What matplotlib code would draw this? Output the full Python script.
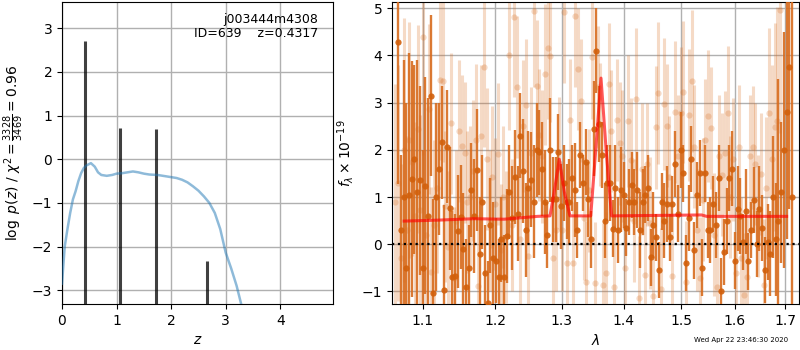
import numpy as np
import matplotlib
matplotlib.use('Agg')
import matplotlib.pyplot as plt
from matplotlib.ticker import FixedLocator, NullLocator, FormatStrFormatter

# --- p(z) panel ---
pz_z = [0.0, 0.05, 0.1, 0.15, 0.2, 0.25, 0.3, 0.35, 0.4, 0.45, 0.53, 0.6, 0.66,
        0.72, 0.82, 0.92, 1.0, 1.1, 1.2, 1.3, 1.4, 1.5, 1.6, 1.75, 1.9, 2.0,
        2.1, 2.2, 2.3, 2.4, 2.5, 2.6, 2.7, 2.8, 2.9, 3.0, 3.1, 3.2, 3.3]
pz_logp = [-2.85, -2.0, -1.6, -1.23, -0.92, -0.73, -0.5, -0.32, -0.2, -0.14, -0.09,
           -0.17, -0.3, -0.36, -0.38, -0.36, -0.33, -0.32, -0.3, -0.28, -0.3, -0.33,
           -0.35, -0.36, -0.39, -0.41, -0.43, -0.47, -0.53, -0.62, -0.72, -0.85,
           -1.0, -1.23, -1.6, -2.14, -2.5, -2.9, -3.4]
peak_z = [0.43, 1.07, 1.72, 2.66]
peak_h = [2.70, 0.72, 0.70, -2.33]

# --- spectrum panel ---
dark_flux = [4.28, 0.3, 1.0, -0.5, 1.05, 1.38, 1.8, 1.1, 1.35, -0.5, 1.24, 0.6, 3.15,
             -1.04, 1.0, 1.6, 2.16, -0.97, 2.07, 0.76, -0.7, -0.67, 0.27, 0.57, -0.11,
             -0.9, -0.5, 1.15, 0.6, 1.57, -0.2, 0.9, -0.6, -1.25, 0.4, -0.3, -0.35,
             -0.7, 0.1, -0.7, 0.17, 1.1, 0.55, 1.42, 0.65, 2.3, 1.55, 0.3, 1.2, 1.37,
             0.9, 2.0, 1.95, 1.6, 0.9, 0.2,
             2.0, 0.95, 0.95, 1.95, 0.8, 1.3, 0.9, 0.9, 1.4, 1.15, 0.3, 1.9, 1.3,
             1.75, 0.95, 0.1, 2.45, 4.1, 2.55, 1.9, 0.5, 1.3, 1.3, 0.33, 1.2, 0.3,
             1.15, 1.05, 0.35, 0.9, 1.25, 0.9,
             1.15, 0.3, 0.9, 1.05, 1.2, -0.28, 0.4, 0.15, -0.55, 0.9, 0.5, 0.85,
             0.15, 0.85, 1.7, 0.65, 2.0, 1.5, -0.4, 0.55, 1.8, -0.13, 1.05, 1.5,
             -0.5, 1.5, 0.3, 0.3, 0.85, 0.4, 1.4,
             -1.0, -0.17, 0.5, 1.4, 1.6, -0.35, 0.75, 0.6, 0.05, 0.7, -0.36, 0.3,
             0.94, 0.0, 0.75, 0.35, -0.55, 0.05, -0.2, 1.0, 0.1, 0.5, 1.1, 2.0,
             2.8, 3.75, 1.0]
dark_err = [3.0, 1.6, 2.9, 3.5, 3.0, 2.5, 2.0, 2.8, 2.0, 2.5, 2.3, 2.5, 1.7, 2.0,
            2.0, 1.4, 1.2, 1.8, 1.2, 1.3, 1.4, 1.3, 1.2, 1.1, 1.2,
            1.0, 0.9, 1.0, 1.2, 1.3, 1.2, 1.0, 1.0, 0.9, 1.0, 1.2, 0.9, 0.8, 0.9,
            0.9, 1.0, 1.0, 1.1, 1.0, 1.0, 0.9, 1.1, 1.0, 1.2, 1.0, 1.2, 1.0, 0.9,
            1.0, 1.1, 0.7,
            1.1, 0.9, 0.9, 0.8, 0.9, 0.8, 0.8, 0.9, 0.7, 1.0, 0.6, 0.7, 0.6, 0.7,
            0.8, 0.6, 1.0, 0.9, 0.8, 0.7, 0.8, 0.8, 0.8, 0.6, 0.9, 0.7, 0.9, 0.7,
            0.6, 0.7, 0.7, 0.7,
            0.8, 0.8, 0.7, 0.6, 0.7, 0.6, 0.7, 0.5, 0.6, 0.6, 0.8, 0.8, 0.5, 0.6,
            0.7, 0.6, 0.8, 0.6, 0.6, 0.7, 0.7, 0.6, 0.7, 0.7, 0.6, 0.6, 0.6, 0.7,
            0.6, 0.7, 0.7,
            0.7, 0.7, 0.7, 0.7, 0.8, 0.6, 0.9, 0.8, 0.6, 0.9, 0.6, 0.6, 0.7, 0.7,
            0.9, 0.7, 0.7, 0.8, 0.9, 1.3, 1.2, 3.0, 1.5, 2.5, 2.7, 3.0, 4.5]
dark_range = (1.0678, 1.714)

light_flux = [0.9, 1.3, -0.3, 2.0, 0.3, 2.2, 1.74, 0.6, 2.44, 0.73, 4.38, 0.2, 2.87,
              -0.58, 0.41, 1.2, 3.48, 3.45, 0.8, -0.05, 2.56, -0.72, 0.5, 2.4, 2.08,
              1.94, 0.9,
              1.0, 1.56, 2.21, -0.88, 2.3, 3.76, 1.81, 0.5, 1.43, 0.85, 1.91, -0.12,
              1.0, 0.16, 4.01, 0.41, 4.81, 3.33, 0.1, 2.5, 2.94, -0.25, 1.93, 4.94,
              3.35, 2.32, 1.86,
              3.6, 4.15, 3.99, -0.3, 0.3, 1.72, 0.3, 4.92, -0.4, 2.63, -0.4, 4.84,
              3.71, 3.04, 0.55, -0.81, 1.14, 3.96, -0.83, 3.33, 2.53, -0.86, -0.61,
              3.39, 2.4, -0.9, 2.63, 2.14,
              1.87, -0.5, 2.61, 1.79, 0.5, 3.08, -1.13, 1.6, -0.65, 1.69, 0.45, -1.1,
              2.48, 3.2, -0.95, 2.97, 2.51, 1.42, -0.67, 2.8, 1.86, 2.78, 3.23, -0.8,
              2.74, 3.46, 2.07,
              0.3, -0.72, 0.94, 2.21, 2.72, 2.46, 0.2, -0.9, 1.86, 1.47, 1.94, 2.79,
              1.0, 1.8, -0.6, 2.07, -0.3, -1.07, -0.69, 1.86, 2.05, 1.7, 0.6, 1.49,
              -0.86, 1.19, 2.79, 1.8, 2.48, 2.62, 4.96]
light_err = [2.5, 2.5, 2.0, 2.8, 2.0, 2.5, 2.0, 2.0, 2.2, 2.0, 2.5, 1.8, 1.8, 1.8,
             1.8, 1.8, 1.7, 1.7, 1.6, 1.6, 1.5, 1.5, 1.5, 1.5, 1.5, 1.5, 1.5,
             1.5, 1.5, 1.6, 1.5, 1.5, 1.7, 1.5, 1.5, 1.5, 1.4, 1.5, 1.4, 1.5, 1.4,
             1.6, 1.4, 1.7, 1.5, 1.4, 1.4, 1.4, 1.4, 1.4, 1.6, 1.4, 1.4, 1.4,
             1.5, 1.5, 1.4, 1.3, 1.3, 1.4, 1.3, 1.5, 1.3, 1.3, 1.3, 1.5, 1.3, 1.3,
             1.3, 1.3, 1.3, 1.3, 1.3, 1.3, 1.3, 1.3, 1.3, 1.3, 1.3, 1.3, 1.3, 1.3,
             1.4, 1.3, 1.4, 1.3, 1.3, 1.5, 1.3, 1.4, 1.3, 1.3, 1.4, 1.3, 1.3, 1.5,
             1.3, 1.4, 1.3, 1.3, 1.3, 1.5, 1.3, 1.4, 1.5, 1.3, 1.4, 1.5, 1.3,
             1.3, 1.3, 1.3, 1.3, 1.4, 1.3, 1.3, 1.3, 1.3, 1.3, 1.3, 1.4, 1.3, 1.3,
             1.3, 1.3, 1.3, 1.3, 1.3, 1.3, 1.3, 1.3, 1.3, 1.3, 1.4, 1.5, 1.8, 2.0,
             2.2, 2.4, 2.6]
light_range = (1.0644, 1.69)

model_wave = [1.0756, 1.12, 1.169, 1.213, 1.2623, 1.2816, 1.288, 1.296, 1.304,
              1.3127, 1.3459, 1.354, 1.3626, 1.371, 1.380, 1.5377, 1.547, 1.703]
model_flux = [0.49, 0.51, 0.54, 0.53, 0.59, 0.6, 1.1, 1.8, 1.1, 0.6, 0.6, 2.0,
              3.52, 2.0, 0.6, 0.62, 0.59, 0.59]

xticks = [1.1, 1.2, 1.3, 1.4, 1.5, 1.6, 1.7]

# spectral pixel grid
dark_wave = np.geomspace(dark_range[0], dark_range[1], len(dark_flux))
light_wave = np.geomspace(light_range[0], light_range[1], len(light_flux))

orange = '#d86c1e'

fig = plt.figure(figsize=(8, 3.5), dpi=100)
ax1 = fig.add_axes([0.0775, 0.131, 0.339, 0.863])
ax2 = fig.add_axes([0.49, 0.131, 0.509, 0.863])

# left
ax1.vlines(peak_z, -10, peak_h, color='k', alpha=0.75, lw=2.2, zorder=3)
ax1.plot(pz_z, pz_logp, color='C0', alpha=0.5, lw=1.8, zorder=4)
ax1.set_xlim(0, 4.97)
ax1.set_ylim(-3.32, 3.6)
ax1.set_xticks([0, 1, 2, 3, 4])
ax1.grid(True, color='#b0b0b0', lw=1)
ax1.set_axisbelow(True)
ax1.set_xlabel(r'$z$')
ax1.set_ylabel(r'$\log\ p(z)$ / $\chi^2=\frac{3328}{3469}=0.96$')
ax1.text(0.945, 0.965, 'j003444m4308\nID=639    z=0.4317', transform=ax1.transAxes,
         ha='right', va='top', fontsize=9, linespacing=1.1)

# right
ax2.errorbar(light_wave, light_flux, yerr=light_err, fmt='o', color=orange,
             alpha=0.25, ms=4.5, mec='none', elinewidth=2.2, capsize=0, zorder=2)
ax2.errorbar(dark_wave, dark_flux, yerr=dark_err, fmt='o', color=orange,
             alpha=0.9, ms=4.5, mfc='#d2600c', mec='none', elinewidth=1.7,
             capsize=0, zorder=3)
ax2.plot(model_wave, model_flux, color='r', alpha=0.65, lw=2.2, zorder=4)
ax2.axhline(0, color='k', ls=':', lw=1.6, zorder=5)
ax2.set_xscale('log')
ax2.xaxis.set_major_locator(FixedLocator(xticks))
ax2.xaxis.set_minor_locator(NullLocator())
ax2.xaxis.set_major_formatter(FormatStrFormatter('%.1f'))
ax2.set_xlim(1.06, 1.729)
ax2.set_ylim(-1.27, 5.13)
ax2.grid(True, color='#b0b0b0', lw=1, zorder=6)
ax2.set_xlabel(r'$\lambda$')
ax2.set_ylabel(r'$f_\lambda\times10^{-19}$')

fig.text(0.985, 0.029, 'Wed Apr 22 23:46:30 2020', ha='right', va='center', fontsize=5)

fig.savefig('out.png', dpi=100)
